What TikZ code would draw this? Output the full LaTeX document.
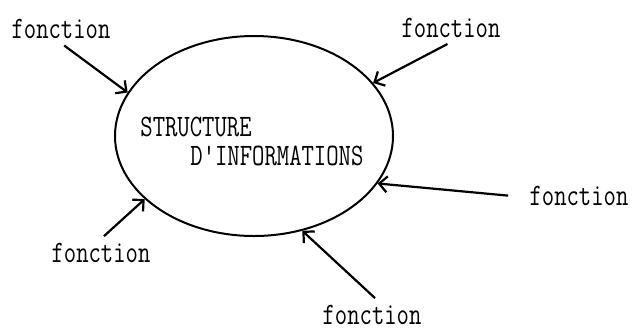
\documentclass[tikz,border=0pt]{standalone}
\usetikzlibrary{shapes.geometric, arrows.meta}

\tikzset{
	fct/.style={font=\ttfamily\fontsize{12}{14}\selectfont, yscale=1.3, inner sep=1.5pt},
	lien/.style={line width=1.1pt, -{Straight Barb[length=4pt,width=8pt]}, shorten <=2pt}
}

\begin{document}
\begin{tikzpicture}[x=0.5pt,y=-0.5pt]
	\useasboundingbox (0,0) rectangle (634,329);

	%structure d'informations
	\node[draw, line width=1pt, ellipse, minimum width=139pt, minimum height=100pt] (info) at (254,136) {};
	\node[fct, anchor=west] (titre1) at (137,127) {STRUCTURE};
	\node[fct, anchor=west] (titre2) at (187,156) {D'INFORMATIONS};

	%labels - outside
	\node[fct] (f1) at (61,29)   {fonction};	%NW
	\node[fct] (f2) at (451,28)  {fonction};	%NE
	\node[fct] (f3) at (579,196) {fonction};	%E
	\node[fct] (f4) at (101,253) {fonction};	%SW
	\node[fct] (f5) at (372,315) {fonction};	%S

	%arrows
	\draw[lien] (f1.south) -- (info.161);
	\draw[lien] (f2.south) -- (info.24);
	\draw[lien] ([xshift=-7pt]f3.west) -- (info.339);
	\draw[lien] (f4.north) -- (info.210);
	\draw[lien] ([xshift=3pt]f5.north) -- (info.297);
\end{tikzpicture}
\end{document}
